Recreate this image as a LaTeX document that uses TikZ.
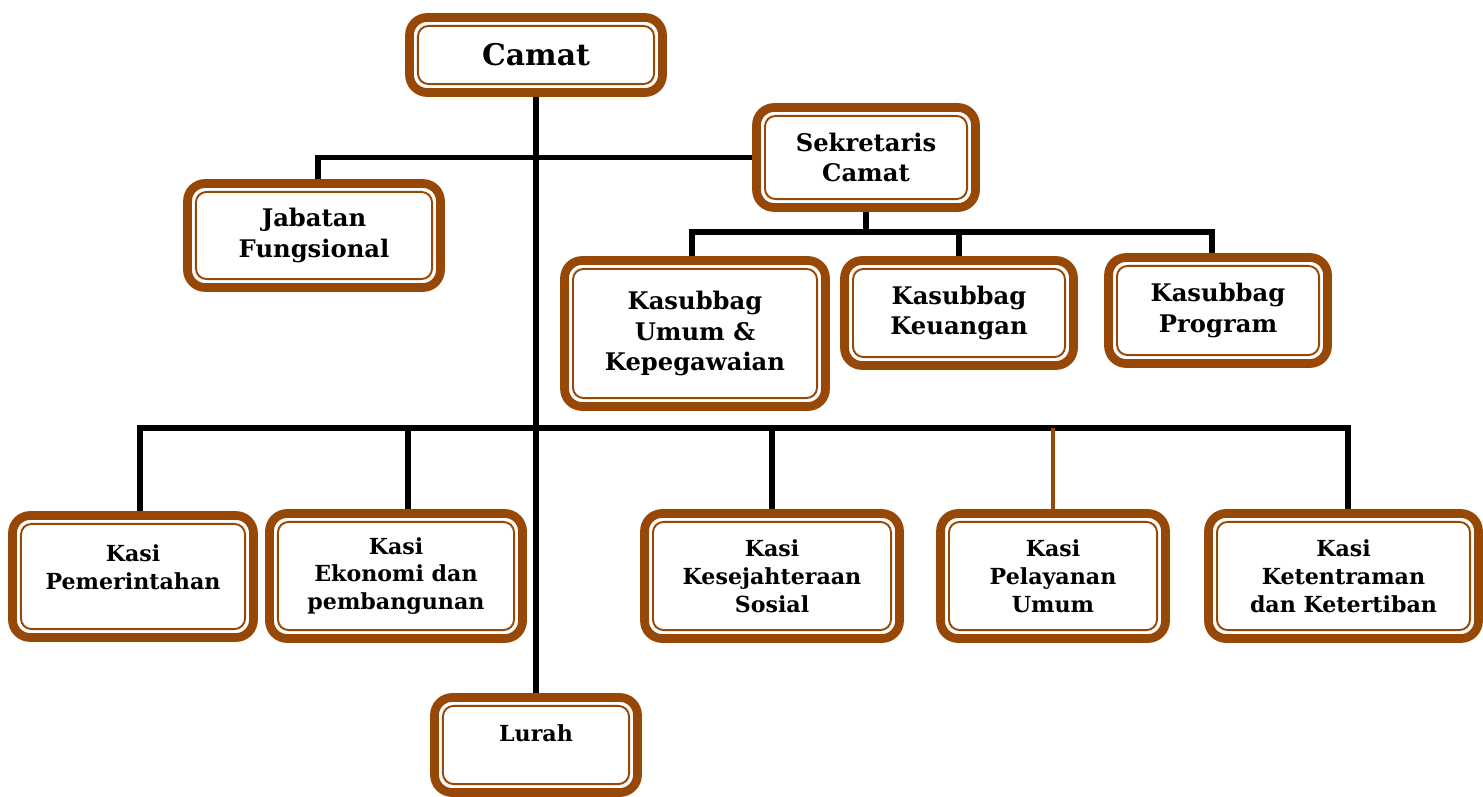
\documentclass[tikz,border=0pt]{standalone}
\usepackage{fontspec}
\setmainfont{DejaVu Serif}
\usepackage{tikz}
\usetikzlibrary{backgrounds}
\definecolor{brn}{RGB}{152,72,6}
\tikzstyle{orgbox} = [rectangle, draw=brn, line width=5pt, fill=white,
    rounded corners=10pt, inner sep=0pt, outer sep=0pt, align=center,
    font=\fontsize{13.8}{17.6}\selectfont\bfseries]
\tikzstyle{kasibox} = [orgbox, font=\fontsize{12.6}{15.9}\selectfont\bfseries]
\tikzstyle{innerline} = [draw=brn, line width=1.1pt, rounded corners=6pt]
\tikzstyle{conn} = [draw, line width=2.9pt, line join=miter]

\begin{document}
\begin{tikzpicture}[x=0.02cm,y=-0.02cm]
  \useasboundingbox (0,0) rectangle (1483,797);
  % top
  \node[orgbox, minimum width=5.06cm, minimum height=1.50cm,
        font=\fontsize{17}{20}\selectfont\bfseries] (camat) at (536,55) {Camat};
  \node[orgbox, minimum width=4.38cm, minimum height=2.00cm] (sekcam) at (866,157.5) {Sekretaris\\Camat};
  \node[orgbox, minimum width=5.06cm, minimum height=2.08cm] (jabfung) at (314,235.5) {Jabatan\\Fungsional};
  % kasubbag
  \node[orgbox, minimum width=5.22cm, minimum height=2.92cm] (umum) at (695,333.5) {Kasubbag\\Umum \&\\Kepegawaian};
  \node[orgbox, minimum width=4.58cm, minimum height=2.10cm] (keu) at (959,313) {Kasubbag\\Keuangan};
  \node[orgbox, minimum width=4.38cm, minimum height=2.12cm] (prog) at (1218,310.5) {Kasubbag\\Program};
  % kasi
  \node[kasibox, minimum width=4.82cm, minimum height=2.44cm, text depth=11pt] (pem) at (133,576.5) {Kasi\\Pemerintahan};
  \node[kasibox, minimum width=5.06cm, minimum height=2.50cm] (eko) at (396,576) {Kasi\\Ekonomi dan\\pembangunan};
  \node[kasibox, minimum width=5.10cm, minimum height=2.50cm] (kesos) at (772,576) {Kasi\\Kesejahteraan\\Sosial};
  \node[kasibox, minimum width=4.50cm, minimum height=2.50cm] (pelum) at (1053,576) {Kasi\\Pelayanan\\Umum};
  \node[kasibox, minimum width=5.40cm, minimum height=2.50cm] (tibum) at (1343.5,576) {Kasi\\Ketentraman\\dan Ketertiban};
  \node[kasibox, minimum width=4.06cm, minimum height=1.90cm, text depth=13.5pt] (lurah) at (536,745) {Lurah};

  % double border
  \foreach \n in {camat,sekcam,jabfung,umum,keu,prog,pem,eko,kesos,pelum,tibum,lurah}
    \draw[innerline] ([shift={(4.8pt,-4.8pt)}]\n.north west) rectangle ([shift={(-4.8pt,4.8pt)}]\n.south east);

  \coordinate (subbus) at (868,232);
  \coordinate (kasibus) at (538,428);

  \begin{pgfonlayer}{background}
  \draw[conn] (camat.south) -- (lurah.north);
  \draw[conn] (sekcam.west) -| ([xshift=0.08cm]jabfung.north);
  \draw[conn] (sekcam.south) -- (sekcam.south |- subbus) -| ([xshift=-0.06cm]umum.north);
  \draw[conn] (sekcam.south |- subbus) -| ([xshift=-0.12cm]prog.north);
  \draw[conn] (keu.north) -- (keu.north |- subbus);
  \draw[conn] ([xshift=0.14cm]pem.north) |- (kasibus) -| ([xshift=0.09cm]tibum.north);
  \draw[conn] ([xshift=0.24cm]eko.north) -- ([xshift=0.24cm]eko.north |- kasibus);
  \draw[conn] (kesos.north) -- (kesos.north |- kasibus);
  \draw[conn, draw=brn, line width=2.4pt] (pelum.north) -- (pelum.north |- kasibus);
  \end{pgfonlayer}
\end{tikzpicture}
\end{document}
